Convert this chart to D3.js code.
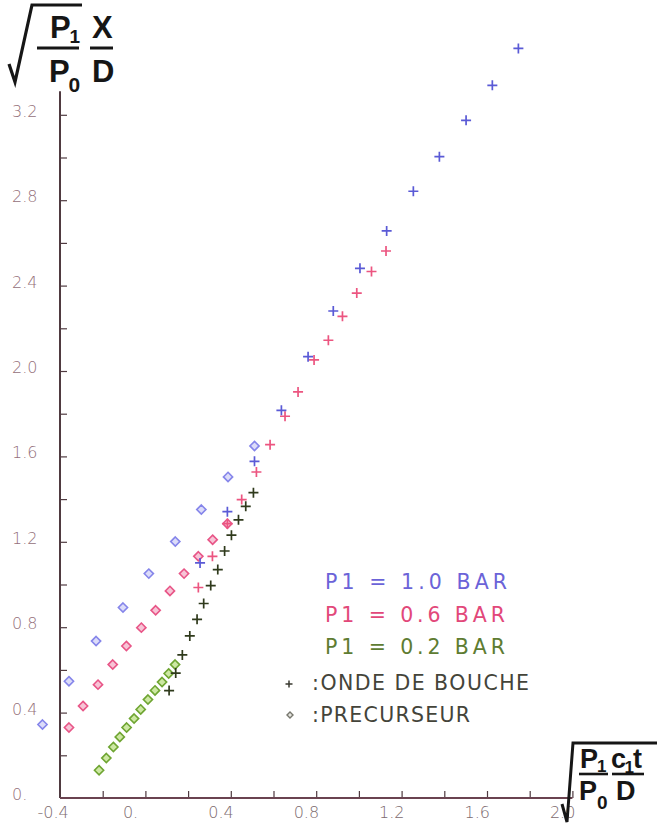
<!DOCTYPE html>
<html>
<head>
<meta charset="utf-8">
<script src="https://cdn.jsdelivr.net/npm/d3@7"></script>
<style>
  html, body { margin: 0; padding: 0; background: #ffffff; }
  svg { display: block; }
  .tick-label { font-family: "DejaVu Sans", sans-serif; font-weight: 300; font-size: 16px; }
  .legend { font-family: "DejaVu Sans", sans-serif; font-weight: 400; font-size: 20.5px; }
  .title { font-family: "Liberation Sans Narrow", "Liberation Sans", Arial, sans-serif; font-weight: bold; fill: #161616; }
</style>
</head>
<body>
<script>
// Axis ranges and tick values
const xDomain = [-0.4, 2.0];
const yDomain = [0, 3.2];
const xTicks = [-0.2, 0, 0.2, 0.4, 0.6, 0.8, 1.0, 1.2, 1.4, 1.6, 1.8, 2.0];
const xTickLabels = [-0.4, 0, 0.4, 0.8, 1.2, 1.6, 2.0];
const yTicks = [0.2, 0.4, 0.6, 0.8, 1.0, 1.2, 1.4, 1.6, 1.8, 2.0, 2.2, 2.4, 2.6, 2.8, 3.0, 3.2];
const yTickLabels = [0, 0.4, 0.8, 1.2, 1.6, 2.0, 2.4, 2.8, 3.2];

// Legend entries
const seriesLabels = ["P1 = 1.0 BAR", "P1 = 0.6 BAR", "P1 = 0.2 BAR"];
const markerLabels = [":ONDE DE BOUCHE", ":PRECURSEUR"];

// Muzzle wave (onde de bouche) positions, [x, y]
const ondeP10 = [[0.256, 1.101], [0.384, 1.341], [0.511, 1.577], [0.637, 1.816], [0.762, 2.067],
  [0.880, 2.281], [1.005, 2.481], [1.130, 2.656], [1.255, 2.842], [1.377, 3.004],
  [1.502, 3.174], [1.625, 3.338], [1.747, 3.511]];
const ondeP06 = [[0.248, 0.986], [0.314, 1.132], [0.384, 1.285], [0.451, 1.398], [0.520, 1.527],
  [0.584, 1.655], [0.654, 1.788], [0.715, 1.902], [0.790, 2.052], [0.857, 2.144],
  [0.923, 2.256], [0.990, 2.365], [1.059, 2.466], [1.127, 2.562]];
const ondeP02 = [[0.111, 0.503], [0.142, 0.585], [0.173, 0.670], [0.208, 0.759], [0.242, 0.837],
  [0.273, 0.911], [0.306, 0.995], [0.339, 1.070], [0.371, 1.157], [0.403, 1.231],
  [0.436, 1.303], [0.470, 1.366], [0.506, 1.430]];

// Precursor positions, [x, y]
const precP10 = [[-0.482, 0.344], [-0.358, 0.547], [-0.231, 0.735], [-0.105, 0.892], [0.016, 1.051],
  [0.140, 1.201], [0.262, 1.351], [0.387, 1.504], [0.511, 1.649]];
const precP06 = [[-0.358, 0.330], [-0.292, 0.431], [-0.222, 0.531], [-0.153, 0.625], [-0.089, 0.712],
  [-0.019, 0.798], [0.048, 0.879], [0.115, 0.970], [0.181, 1.051], [0.248, 1.132],
  [0.315, 1.210], [0.384, 1.285]];
const precP02 = [[-0.217, 0.130], [-0.183, 0.187], [-0.150, 0.239], [-0.120, 0.286], [-0.088, 0.330],
  [-0.053, 0.372], [-0.022, 0.415], [0.012, 0.461], [0.045, 0.504], [0.078, 0.543],
  [0.109, 0.583], [0.139, 0.625]];

const W = 657, H = 830;
const svg = d3.select("body").append("svg").attr("width", W).attr("height", H);

const x = d3.scaleLinear().domain(xDomain).range([60, 572.4]);
const y = d3.scaleLinear().domain(yDomain).range([798, 114.8]);

const axisColor = "#4f3a40";

// Y axis: ticks point into the plot, labels left-aligned at the page margin
const yAxis = svg.append("g").attr("transform", `translate(${x(xDomain[0])},0)`)
  .call(d3.axisRight(y).tickValues(yTicks).tickSize(7).tickFormat(""));
yAxis.select(".domain").remove();
yAxis.selectAll(".tick line").attr("stroke", axisColor).attr("stroke-width", 1.2);
svg.append("line")
  .attr("x1", x(xDomain[0])).attr("x2", x(xDomain[0]))
  .attr("y1", y(0)).attr("y2", y(3.31))
  .attr("stroke", axisColor).attr("stroke-width", 2);

svg.append("g").selectAll("text").data(yTickLabels).join("text")
  .attr("class", "tick-label")
  .attr("x", 12).attr("y", d => y(d) + 2)
  .attr("fill", "#94707a")
  .text(d => d === 0 ? "0." : d.toFixed(1));

// X axis: ticks point upward
const xAxis = svg.append("g").attr("transform", `translate(0,${y(0)})`)
  .call(d3.axisTop(x).tickValues(xTicks).tickSize(7).tickFormat(""));
xAxis.select(".domain").remove();
xAxis.selectAll(".tick line").attr("stroke", axisColor).attr("stroke-width", 1.2);
svg.append("line")
  .attr("x1", x(xDomain[0])).attr("x2", x(xDomain[1]))
  .attr("y1", y(0)).attr("y2", y(0))
  .attr("stroke", "#6a4350").attr("stroke-width", 2);

svg.append("g").selectAll("text").data(xTickLabels).join("text")
  .attr("class", "tick-label")
  .attr("x", d => x(d) - 22.5)
  .attr("y", 818)
  .attr("fill", "#7c6a6e")
  .text(d => d === 0 ? "0." : (d < 0 ? "-" : "") + Math.abs(d).toFixed(1));

// Marker shapes
const crossPath = "M-5,0H5M0,-5V5";
const diamondPath = "M0,-4.6L4.6,0L0,4.6L-4.6,0Z";

function drawMarkers(data, path, stroke, fill, width) {
  svg.append("g").selectAll("path").data(data).join("path")
    .attr("transform", d => `translate(${x(d[0])},${y(d[1])})`)
    .attr("d", path)
    .attr("stroke", stroke)
    .attr("stroke-width", width)
    .attr("fill", fill);
}

drawMarkers(precP10, diamondPath, "#8585ea", "#dcdcf9", 1.6);
drawMarkers(precP06, diamondPath, "#e85587", "#f7c4d6", 1.6);
drawMarkers(precP02, diamondPath, "#6fa532", "#cde8a3", 1.6);
drawMarkers(ondeP02, crossPath, "#2f3a1c", "none", 1.7);
drawMarkers(ondeP06, crossPath, "#ec5580", "none", 1.7);
drawMarkers(ondeP10, crossPath, "#5a5ad6", "none", 1.7);

// Legend
const seriesColors = ["#6b63d8", "#e2487a", "#5e7c32"];
const seriesWidths = [182, 180, 180];
svg.append("g").selectAll("text").data(seriesLabels).join("text")
  .attr("class", "legend")
  .attr("x", 325).attr("y", (d, i) => 589 + i * 32.5)
  .attr("fill", (d, i) => seriesColors[i])
  .attr("textLength", (d, i) => seriesWidths[i])
  .attr("lengthAdjust", "spacing")
  .text(d => d);

const markerWidths = [217, 158];
svg.append("g").selectAll("text").data(markerLabels).join("text")
  .attr("class", "legend")
  .attr("x", 312).attr("y", (d, i) => 690 + i * 31.5)
  .attr("fill", "#44443a")
  .attr("textLength", (d, i) => markerWidths[i])
  .attr("lengthAdjust", "spacing")
  .text(d => d);
svg.append("path").attr("transform", "translate(289,684)")
  .attr("d", "M-3.5,0H3.5M0,-3.5V3.5").attr("stroke", "#3a3a30").attr("stroke-width", 1.5);
svg.append("path").attr("transform", "translate(290,715)")
  .attr("d", "M0,-3L3,0L0,3L-3,0Z").attr("stroke", "#77776e").attr("stroke-width", 1.4).attr("fill", "#e6e6e0");

// Y axis title: sqrt(P1/P0) X/D
const yt = svg.append("g");
yt.append("path").attr("d", "M9,64 L15,82 L32,5 L82,5")
  .attr("fill", "none").attr("stroke", "#161616").attr("stroke-width", 3.2).attr("stroke-linejoin", "miter");
yt.append("text").attr("class", "title").attr("x", 50).attr("y", 38).attr("font-size", 31).text("P");
yt.append("text").attr("class", "title").attr("x", 69.5).attr("y", 43).attr("font-size", 19).text("1");
yt.append("line").attr("x1", 37).attr("x2", 79).attr("y1", 48).attr("y2", 48).attr("stroke", "#161616").attr("stroke-width", 3);
yt.append("text").attr("class", "title").attr("x", 49).attr("y", 82).attr("font-size", 31).text("P");
yt.append("text").attr("class", "title").attr("x", 68.5).attr("y", 92).attr("font-size", 21).text("0");
yt.append("text").attr("class", "title").attr("x", 92).attr("y", 38).attr("font-size", 31).text("X");
yt.append("line").attr("x1", 90).attr("x2", 113).attr("y1", 48).attr("y2", 48).attr("stroke", "#161616").attr("stroke-width", 3);
yt.append("text").attr("class", "title").attr("x", 92).attr("y", 82).attr("font-size", 31).text("D");

// X axis title: sqrt(P1/P0) c1t/D
const xt = svg.append("g");
xt.append("path").attr("d", "M562,804 L567,822 L573,743 L660,743")
  .attr("fill", "none").attr("stroke", "#161616").attr("stroke-width", 3).attr("stroke-linejoin", "miter");
xt.append("text").attr("class", "title").attr("x", 580).attr("y", 768).attr("font-size", 27).text("P");
xt.append("text").attr("class", "title").attr("x", 597).attr("y", 772).attr("font-size", 17).text("1");
xt.append("line").attr("x1", 579).attr("x2", 608).attr("y1", 774).attr("y2", 774).attr("stroke", "#161616").attr("stroke-width", 2.6);
xt.append("text").attr("class", "title").attr("x", 579).attr("y", 800).attr("font-size", 27).text("P");
xt.append("text").attr("class", "title").attr("x", 597).attr("y", 809).attr("font-size", 19).text("0");
xt.append("text").attr("class", "title").attr("x", 611).attr("y", 768).attr("font-size", 27).text("c");
xt.append("text").attr("class", "title").attr("x", 624.5).attr("y", 773).attr("font-size", 17).text("1");
xt.append("text").attr("class", "title").attr("x", 633).attr("y", 768).attr("font-size", 27).text("t");
xt.append("line").attr("x1", 612).attr("x2", 644).attr("y1", 774).attr("y2", 774).attr("stroke", "#161616").attr("stroke-width", 2.6);
xt.append("text").attr("class", "title").attr("x", 616).attr("y", 800).attr("font-size", 27).text("D");
</script>
</body>
</html>
